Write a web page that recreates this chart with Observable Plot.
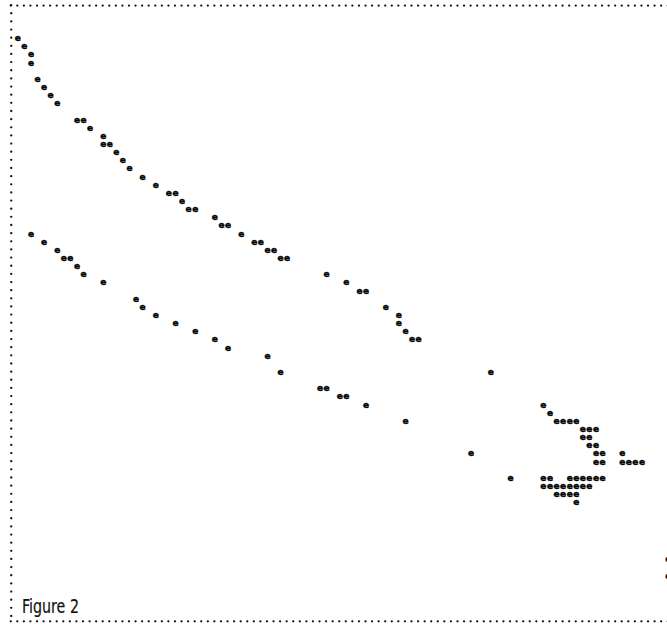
<!DOCTYPE html>
<html>
<head>
<meta charset="utf-8">
<script src="https://cdn.jsdelivr.net/npm/d3@7"></script>
<script src="https://cdn.jsdelivr.net/npm/@observablehq/plot@0.6"></script>
<style>
  html, body { margin: 0; padding: 0; background: #fff; overflow: hidden; }
  #chart svg { display: block; }
</style>
</head>
<body>
<div id="chart"></div>
<script>
// Line-printer plot: positions are in printer columns (x) and printer lines (y, counted downward).
const upperCol  = [1, 2, 3, 3, 4, 5, 6, 7, 10, 11, 12, 14, 14, 15, 16, 17, 18, 20, 22, 24, 25, 26, 27, 28, 31, 32, 33, 35, 37, 38, 39, 40, 41, 42, 48, 51, 53, 54, 57, 59, 59, 60, 61, 62, 73];
const upperLine = [4, 5, 6, 7, 9, 10, 11, 12, 14, 14, 15, 16, 17, 17, 18, 19, 20, 21, 22, 23, 23, 24, 25, 25, 26, 27, 27, 28, 29, 29, 30, 30, 31, 31, 33, 34, 35, 35, 37, 38, 39, 40, 41, 41, 45];

const lowerCol  = [3, 5, 7, 8, 9, 10, 11, 14, 19, 20, 22, 25, 28, 31, 33, 39, 41, 47, 48, 50, 51, 54, 60, 70, 76];
const lowerLine = [28, 29, 30, 31, 31, 32, 33, 34, 36, 37, 38, 39, 40, 41, 42, 43, 45, 47, 47, 48, 48, 49, 51, 55, 58];

const clusterCol  = [81, 82, 83, 84, 85, 86, 87, 88, 89, 87, 88, 88, 89, 89, 90, 93, 89, 90, 93, 94, 95, 96,
                     81, 82, 85, 86, 87, 88, 89, 90,
                     81, 82, 83, 84, 85, 86, 87, 88,
                     83, 84, 85, 86, 86];
const clusterLine = [49, 50, 51, 51, 51, 51, 52, 52, 52, 53, 53, 54, 54, 55, 55, 55, 56, 56, 56, 56, 56, 56,
                     58, 58, 58, 58, 58, 58, 58, 58,
                     59, 59, 59, 59, 59, 59, 59, 59,
                     60, 60, 60, 60, 61];

const edgeCol  = [100, 100];
const edgeLine = [68, 70];

const borderTopLine = [0];
const borderBottomLine = [75.6];
const borderLeftCol = [0];
const plotSymbol = "e";
const caption = "Figure 2";

const W = 667, H = 629;
const colPx = 6.57, col0 = 10.73;
const linePx = 8.145, line0 = 5.1;

const toRows = (cols, lines) => cols.map((c, i) => ({col: c, line: lines[i]}));
const points = [
  ...toRows(upperCol, upperLine),
  ...toRows(lowerCol, lowerLine),
  ...toRows(clusterCol, clusterLine),
  ...toRows(edgeCol, edgeLine)
];

const dotStyle = {stroke: "#111", strokeWidth: 2.3, strokeLinecap: "round"};

const chart = Plot.plot({
  width: W,
  height: H,
  margin: 0,
  style: {background: "#fff", overflow: "hidden"},
  x: {domain: [-col0 / colPx, (W - col0) / colPx], range: [0, W], axis: null},
  y: {domain: [-line0 / linePx, (H - line0) / linePx], range: [0, H], axis: null},
  marks: [
    Plot.ruleY(borderTopLine, {y: d => d, x1: borderLeftCol[0], x2: 110, ...dotStyle, strokeDasharray: `0 ${colPx}`}),
    Plot.ruleY(borderBottomLine, {y: d => d, x1: borderLeftCol[0], x2: 110, ...dotStyle, strokeDasharray: `0 ${colPx}`}),
    Plot.ruleX(borderLeftCol, {x: d => d, y1: borderTopLine[0], y2: borderBottomLine[0], ...dotStyle, strokeDasharray: `0 ${linePx}`}),
    Plot.text(points, {
      x: "col", y: "line", text: () => plotSymbol,
      fontSize: 9, fontWeight: "bold", fontFamily: "DejaVu Sans, sans-serif",
      fill: "#000", stroke: "#000", strokeWidth: 0.4
    }),
    Plot.text([caption], {
      text: d => d, frameAnchor: "bottom-left", textAnchor: "start", lineAnchor: "bottom",
      dx: 21.5, dy: -16.3, fontSize: 19.5, fontFamily: "'Liberation Sans Narrow', 'DejaVu Sans Condensed', 'Liberation Sans', sans-serif",
      fill: "#111", stroke: "#111", strokeWidth: 0.2
    })
  ]
});
// condense the caption to the narrow width of the original typeface
d3.select(chart).selectAll("text").filter(function() { return this.textContent === caption; })
  .attr("textLength", 57).attr("lengthAdjust", "spacingAndGlyphs");
document.getElementById("chart").appendChild(chart);
</script>
</body>
</html>
